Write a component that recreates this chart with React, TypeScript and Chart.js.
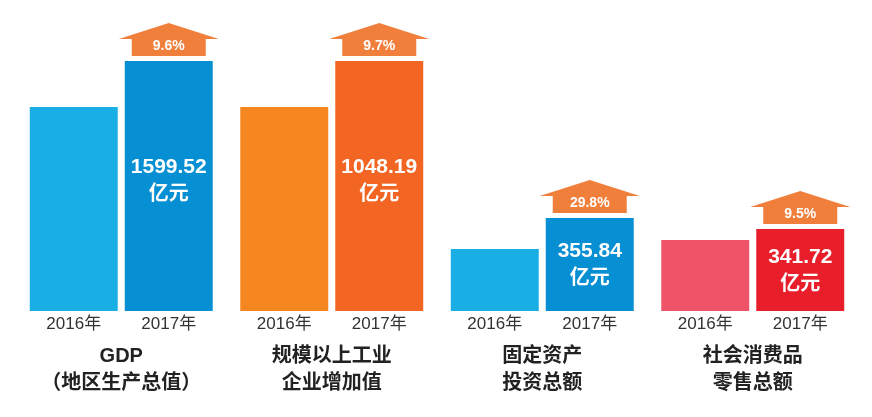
import React, { useEffect, useRef } from "react";
import { Chart, registerables } from "chart.js";

Chart.register(...registerables);

// ---- data ----
const groupLabels: string[][] = [
  ["GDP", "（地区生产总值）"],
  ["规模以上工业", "企业增加值"],
  ["固定资产", "投资总额"],
  ["社会消费品", "零售总额"],
];
const yearLabels = ["2016年", "2017年"];
// bar heights as drawn in the infographic (display units)
const heights2016 = [204, 204, 62, 71];
const heights2017 = [250, 250, 93, 82];
const values2017 = ["1599.52", "1048.19", "355.84", "341.72"];
const valueUnit = "亿元";
const growth2017 = ["9.6%", "9.7%", "29.8%", "9.5%"];

// ---- styles ----
const colors2016 = ["#19afe5", "#f6861f", "#19afe5", "#ef5368"];
const colors2017 = ["#068fd3", "#f36523", "#068fd3", "#e81f2a"];
const arrowColor = "#f07f3c";
const FONT = "'Liberation Sans', 'Noto Sans CJK SC', sans-serif";

const annotatePlugin = {
  id: "annotate",
  afterDatasetsDraw(chart: any) {
    const ctx = chart.ctx;
    const m0 = chart.getDatasetMeta(0);
    const m1 = chart.getDatasetMeta(1);
    const bottom = chart.chartArea.bottom;
    ctx.save();
    // year labels
    ctx.fillStyle = "#333333";
    ctx.font = `17px ${FONT}`;
    ctx.textAlign = "center";
    ctx.textBaseline = "middle";
    [m0, m1].forEach((meta: any, di: number) => {
      meta.data.forEach((el: any) => {
        ctx.fillText(yearLabels[di], el.x, bottom + 13);
      });
    });
    // values inside 2017 bars and growth arrows
    m1.data.forEach((el: any, i: number) => {
      const top = el.y;
      const h = el.base - el.y;
      const cy = (el.y + el.base) / 2 - 0.035 * h + 3;
      ctx.fillStyle = "#ffffff";
      ctx.font = `bold 21px ${FONT}`;
      ctx.fillText(values2017[i], el.x, cy - 13);
      ctx.font = `bold 20px ${FONT}`;
      ctx.fillText(valueUnit, el.x, cy + 14);

      const bodyBottom = top - 5;
      const bodyTop = bodyBottom - 17;
      const apex = bodyTop - 16;
      const bodyHalf = 37;
      const headHalf = 50;
      ctx.beginPath();
      ctx.moveTo(el.x - bodyHalf, bodyBottom);
      ctx.lineTo(el.x - bodyHalf, bodyTop);
      ctx.lineTo(el.x - headHalf, bodyTop);
      ctx.lineTo(el.x, apex);
      ctx.lineTo(el.x + headHalf, bodyTop);
      ctx.lineTo(el.x + bodyHalf, bodyTop);
      ctx.lineTo(el.x + bodyHalf, bodyBottom);
      ctx.closePath();
      ctx.fillStyle = arrowColor;
      ctx.fill();
      ctx.fillStyle = "#ffffff";
      ctx.font = `bold 14px ${FONT}`;
      ctx.fillText(growth2017[i], el.x, bodyTop + 7);
    });
    ctx.restore();
  },
};

export default function App() {
  const ref = useRef<HTMLCanvasElement | null>(null);
  useEffect(() => {
    if (!ref.current) return;
    const chart = new Chart(ref.current, {
      type: "bar",
      data: {
        labels: groupLabels,
        datasets: [
          {
            label: yearLabels[0],
            data: heights2016,
            backgroundColor: colors2016,
            categoryPercentage: 0.9026,
            barPercentage: 0.926,
          },
          {
            label: yearLabels[1],
            data: heights2017,
            backgroundColor: colors2017,
            categoryPercentage: 0.9026,
            barPercentage: 0.926,
          },
        ],
      },
      options: {
        animation: false,
        responsive: true,
        maintainAspectRatio: false,
        events: [],
        layout: { padding: { left: 16, right: 14, top: 15, bottom: 19 } },
        plugins: {
          legend: { display: false },
          tooltip: { enabled: false },
        },
        scales: {
          x: {
            grid: { display: false },
            border: { display: false },
            afterFit: (scale: any) => {
              scale.height = 87;
            },
            ticks: {
              color: "#222222",
              padding: 24,
              maxRotation: 0,
              autoSkip: false,
              font: { family: FONT, size: 20, weight: "bold", lineHeight: "27px" },
            },
          },
          y: {
            display: false,
            min: 0,
            max: 296,
          },
        },
      },
      plugins: [annotatePlugin],
    });
    return () => chart.destroy();
  }, []);
  return (
    <div style={{ position: "absolute", left: 0, top: 0, width: 872, height: 417, background: "#ffffff" }}>
      <canvas ref={ref} />
    </div>
  );
}
